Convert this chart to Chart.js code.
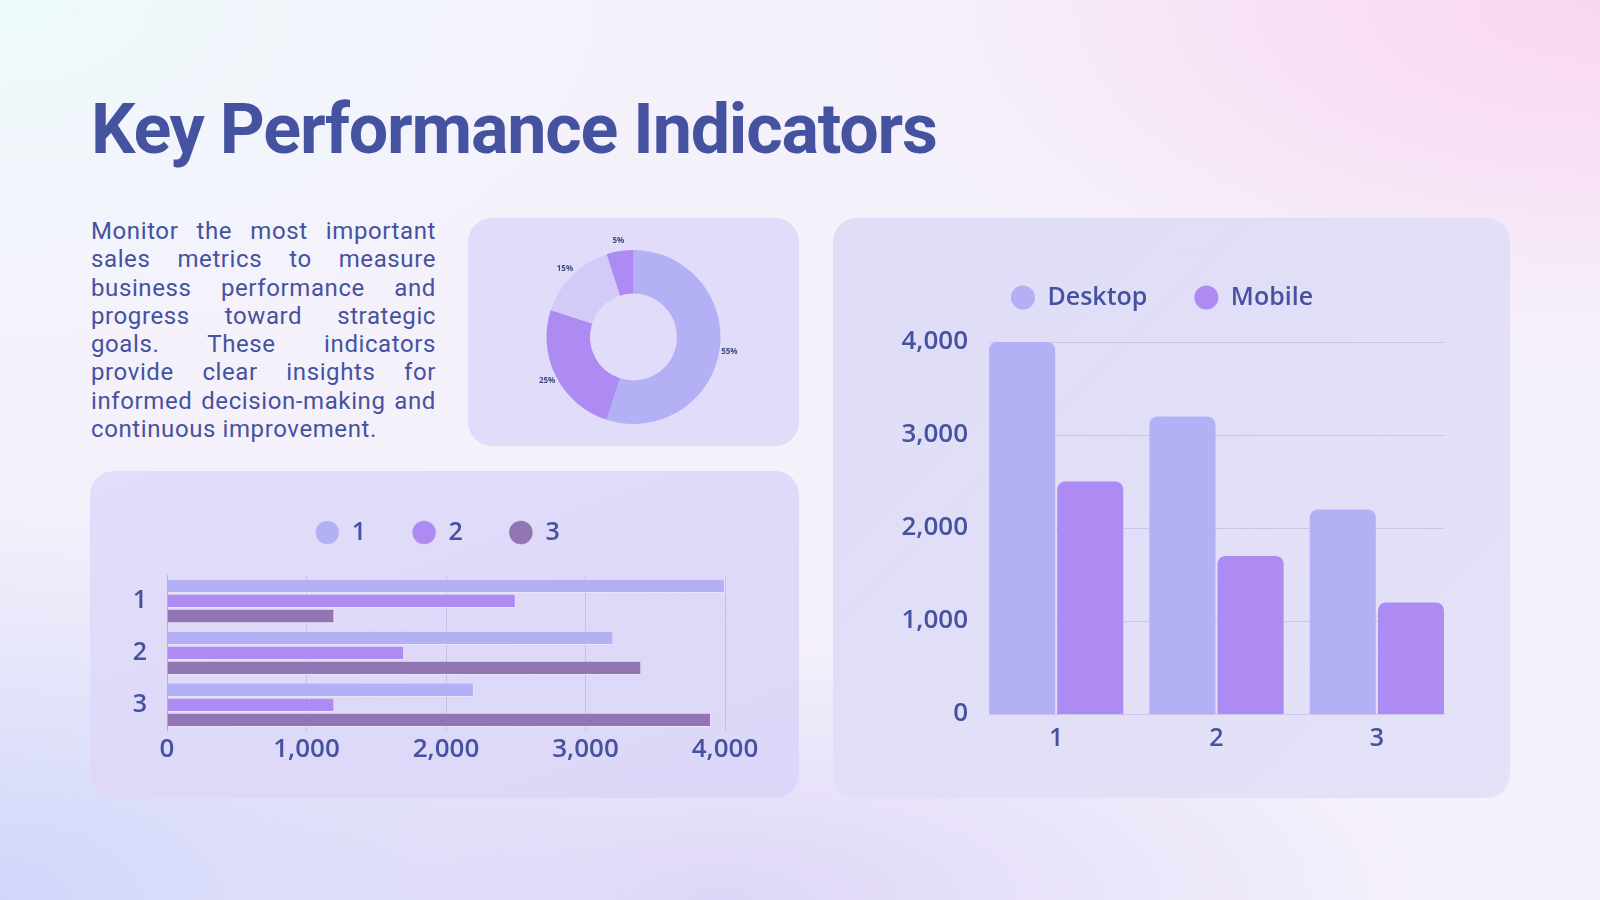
<!DOCTYPE html>
<html>
<head>
<meta charset="utf-8">
<script src="https://cdn.jsdelivr.net/npm/chart.js@4.4.1/dist/chart.umd.min.js"></script>
<style>
  html, body { margin: 0; padding: 0; }
  body {
    width: 1600px; height: 900px; position: relative; overflow: hidden;
    font-family: Roboto, sans-serif;
    background:
      radial-gradient(ellipse 45% 40% at 100% 0%, rgba(250,212,240,0.95), rgba(250,212,240,0) 100%),
      radial-gradient(ellipse 40% 45% at 0% 100%, rgba(208,214,250,1), rgba(208,214,250,0) 100%),
      radial-gradient(ellipse 40% 40% at 0% 0%, rgba(238,250,252,1), rgba(238,250,252,0) 100%),
      radial-gradient(ellipse 45% 30% at 45% 100%, rgba(222,214,248,1), rgba(222,214,248,0) 100%),
      #f5f1fb;
  }
  h1 {
    position: absolute; left: 91px; top: 94px; margin: 0;
    font-family: Roboto, sans-serif; font-weight: 700; font-size: 70px; line-height: 70px;
    letter-spacing: -1.2px;
    color: #4552a0; white-space: nowrap;
  }
  .para {
    position: absolute; left: 91px; top: 217px; width: 345px; margin: 0;
    font-family: Roboto, sans-serif; font-size: 24px; line-height: 28.3px;
    letter-spacing: 0.6px;
    color: #4552a0; text-align: justify;
  }
  .card { position: absolute; border-radius: 24px; overflow: hidden; }
  #donutCard { left: 468px; top: 218px; width: 331px; height: 228px; background: #e1dcfa; }
  #hbarCard { left: 90px; top: 471px; width: 709px; height: 327px;
    background: linear-gradient(160deg, #e2ddfa 0%, #dcd6f8 100%); }
  #vbarCard { left: 833px; top: 218px; width: 677px; height: 580px;
    background: linear-gradient(135deg, #dfdcf8 0%, #e4e2f7 100%); }
  .card canvas { display: block; }
</style>
</head>
<body>
<h1>Key Performance Indicators</h1>
<p class="para">Monitor the most important sales metrics to measure business performance and progress toward strategic goals. These indicators provide clear insights for informed decision-making and continuous improvement.</p>

<div class="card" id="donutCard"><canvas id="donut" width="331" height="228"></canvas></div>
<div class="card" id="hbarCard"><canvas id="hbar" width="709" height="327"></canvas></div>
<div class="card" id="vbarCard"><canvas id="vbar" width="677" height="580"></canvas></div>

<script>
// ---- Data ----
const donutCategories = ['1', '2', '3', '4'];
const donutValues = [55, 25, 15, 5];

const hbarCategories = ['1', '2', '3'];
const hbarSeriesNames = ['1', '2', '3'];
const hbarSeries1 = [4000, 3200, 2200];
const hbarSeries2 = [2500, 1700, 1200];
const hbarSeries3 = [1200, 3400, 3900];

const vbarCategories = ['1', '2', '3'];
const desktopValues = [4000, 3200, 2200];
const mobileValues = [2500, 1700, 1200];

const valueTicks = [0, 1000, 2000, 3000, 4000];

// ---- Styles ----
const C_LIGHT = '#b3b0f5';
const C_MID = '#ae8bf2';
const C_DARK = '#9275b3';
const C_PALE = '#d4caf8';
const TEXT = '#4552a0';
const GRID = 'rgba(150,140,205,0.32)';
const LABEL_FONT = { family: '"Open Sans", sans-serif', weight: '600', size: 25 };
const NUM_FONT = { family: '"Open Sans", sans-serif', weight: '600', size: 26 };

Chart.defaults.animation = false;
Chart.defaults.color = TEXT;
Chart.defaults.font.family = '"Open Sans", sans-serif';

// Legend spacing / position tweak
const legendTweak = {
  id: 'legendTweak',
  beforeLayout(chart, args, opts) {
    const lg = chart.legend;
    if (lg && !lg._tweaked) {
      const fit = lg.fit;
      lg.fit = function () { fit.call(this); this.height += (opts.extraHeight || 0); };
      lg._tweaked = true;
    }
  },
  afterLayout(chart, args, opts) {
    const lg = chart.legend;
    if (lg && opts.dx) { lg.left += opts.dx; lg.right += opts.dx; }
  }
};

// Horizontal grid lines limited to the span of the bars (vertical chart)
const barSpanGrid = {
  id: 'barSpanGrid',
  beforeDatasetsDraw(chart) {
    const ctx = chart.ctx;
    const yScale = chart.scales.y;
    let xmin = Infinity, xmax = -Infinity;
    chart.data.datasets.forEach((d, i) => {
      chart.getDatasetMeta(i).data.forEach(bar => {
        const p = bar.getProps(['x', 'width'], true);
        xmin = Math.min(xmin, p.x - p.width / 2);
        xmax = Math.max(xmax, p.x + p.width / 2);
      });
    });
    ctx.save();
    ctx.strokeStyle = GRID;
    ctx.lineWidth = 1;
    yScale.ticks.forEach(t => {
      const y = Math.round(yScale.getPixelForValue(t.value)) + 0.5;
      ctx.beginPath();
      ctx.moveTo(xmin, y);
      ctx.lineTo(xmax, y);
      ctx.stroke();
    });
    ctx.restore();
  }
};

// Donut percentage labels plugin
const donutLabels = {
  id: 'donutLabels',
  afterDatasetsDraw(chart) {
    const { ctx } = chart;
    const meta = chart.getDatasetMeta(0);
    ctx.save();
    ctx.font = '700 8px "Open Sans", sans-serif';
    ctx.fillStyle = '#404a85';
    ctx.textAlign = 'center';
    ctx.textBaseline = 'middle';
    meta.data.forEach((arc, i) => {
      const p = arc.getProps(['startAngle', 'endAngle', 'outerRadius', 'x', 'y'], true);
      const a = (p.startAngle + p.endAngle) / 2;
      const r = p.outerRadius + 10;
      ctx.fillText(donutValues[i] + '%', p.x + Math.cos(a) * r, p.y + Math.sin(a) * r);
    });
    ctx.restore();
  }
};

new Chart(document.getElementById('donut'), {
  type: 'doughnut',
  data: {
    labels: donutCategories,
    datasets: [{
      data: donutValues,
      backgroundColor: [C_LIGHT, C_MID, C_PALE, C_MID],
      borderWidth: 0
    }]
  },
  options: {
    responsive: false,
    cutout: '50%',
    layout: { padding: { top: 32, bottom: 22 } },
    plugins: { legend: { display: false }, tooltip: { enabled: false } }
  },
  plugins: [donutLabels]
});

// Horizontal grouped bars
new Chart(document.getElementById('hbar'), {
  type: 'bar',
  data: {
    labels: hbarCategories,
    datasets: [
      { label: hbarSeriesNames[0], data: hbarSeries1, backgroundColor: C_LIGHT },
      { label: hbarSeriesNames[1], data: hbarSeries2, backgroundColor: C_MID },
      { label: hbarSeriesNames[2], data: hbarSeries3, backgroundColor: C_DARK }
    ].map(d => Object.assign(d, {
      borderWidth: 1, borderColor: 'rgba(255,255,255,0.3)', borderRadius: 1,
      categoryPercentage: 0.87, barPercentage: 0.95
    }))
  },
  options: {
    responsive: false,
    indexAxis: 'y',
    layout: { padding: { left: 0, right: 74, top: 3, bottom: 30 } },
    plugins: {
      tooltip: { enabled: false },
      legendTweak: { extraHeight: 20, dx: 30 },
      legend: {
        labels: {
          usePointStyle: true, pointStyle: 'circle', boxHeight: 17, boxWidth: 24,
          padding: 46, color: TEXT, font: LABEL_FONT
        }
      }
    },
    scales: {
      x: {
        min: 0, max: 4000,
        afterBuildTicks: s => { s.ticks = valueTicks.map(v => ({ value: v })); },
        grid: { color: GRID, drawTicks: false },
        border: { display: false },
        ticks: { color: TEXT, font: NUM_FONT, padding: 3 }
      },
      y: {
        afterFit: s => { s.width = 77; },
        grid: { display: false, drawTicks: false },
        border: { display: true, color: GRID },
        ticks: { color: TEXT, font: LABEL_FONT, padding: 20 }
      }
    }
  },
  plugins: [legendTweak]
});

// Vertical grouped bars
new Chart(document.getElementById('vbar'), {
  type: 'bar',
  data: {
    labels: vbarCategories,
    datasets: [
      { label: 'Desktop', data: desktopValues, backgroundColor: C_LIGHT },
      { label: 'Mobile', data: mobileValues, backgroundColor: C_MID }
    ].map(d => Object.assign(d, {
      borderRadius: 8, borderSkipped: 'start',
      categoryPercentage: 0.85, barPercentage: 0.97
    }))
  },
  options: {
    responsive: false,
    layout: { padding: { left: 26, right: 53, top: 20, bottom: 34 } },
    plugins: {
      tooltip: { enabled: false },
      legendTweak: { extraHeight: 22, dx: 4 },
      legend: {
        labels: {
          usePointStyle: true, pointStyle: 'circle', boxHeight: 17, boxWidth: 24,
          padding: 47, color: TEXT, font: LABEL_FONT
        }
      }
    },
    scales: {
      x: {
        grid: { display: false, drawTicks: false },
        border: { display: false },
        ticks: { color: TEXT, font: LABEL_FONT, padding: 10 }
      },
      y: {
        min: 0, max: 4000,
        afterBuildTicks: s => { s.ticks = valueTicks.map(v => ({ value: v })); },
        afterFit: s => { s.width = 117; },
        grid: { display: false, drawTicks: false },
        border: { display: false },
        ticks: { color: TEXT, font: NUM_FONT, padding: 8 }
      }
    }
  },
  plugins: [legendTweak, barSpanGrid]
});
</script>
</body>
</html>
